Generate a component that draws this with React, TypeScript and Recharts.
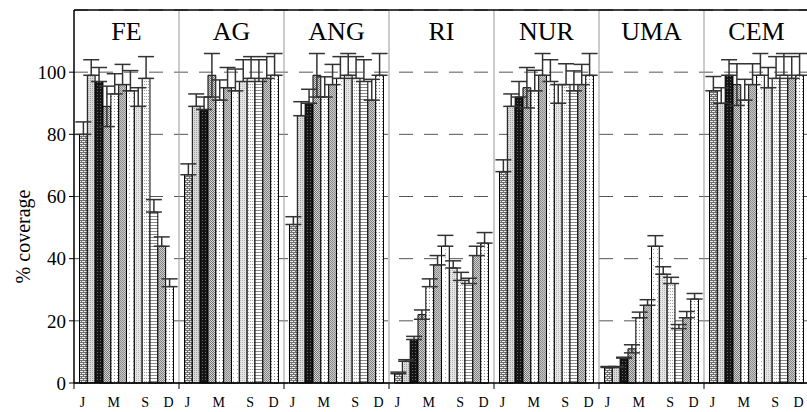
import {
  Bar,
  BarChart,
  CartesianGrid,
  Cell,
  ErrorBar,
  ReferenceArea,
  ReferenceLine,
  XAxis,
  YAxis,
} from "recharts";

const PANELS = ["FE", "AG", "ANG", "RI", "NUR", "UMA", "CEM"];
const MONTHS = ["J", "F", "M", "A", "M", "J", "J", "A", "S", "O", "N", "D"];
const MONTH_LABEL_INDEX = [0, 4, 8, 11];
const Y_TICKS = [0, 20, 40, 60, 80, 100];

// % coverage per panel, January..December
const FE = [80, 99, 97, 89, 93, 96, 94, 89, 98, 55, 44, 31];
const AG = [67, 89, 88, 99, 91, 95, 94, 97, 98, 97, 98, 99];
const ANG = [51, 86, 90, 99, 92, 96, 98, 99, 98, 97, 91, 99];
const RI = [3, 7, 14, 22, 31, 38, 44, 37, 33, 32, 41, 45];
const NUR = [68, 89, 92, 95, 94, 99, 97, 90, 96, 94, 96, 99];
const UMA = [5, 5, 8, 11, 21, 25, 44, 35, 32, 17.5, 21, 27];
const CEM = [94, 90, 99, 96, 91, 96, 99, 95, 98, 99, 98, 99];

// error bar (upper) per panel
const FE_ERR = [4, 5, 4.5, 6.5, 6.5, 6.5, 6.5, 6, 7, 4, 3, 2.5];
const AG_ERR = [3.5, 4, 4, 7, 6.5, 6.5, 7, 7, 7, 7, 7, 7];
const ANG_ERR = [2.5, 4.5, 4.5, 7, 6.5, 6.5, 7, 7, 7, 7, 6.7, 7];
const RI_ERR = [0.5, 0.5, 1, 1.5, 2.5, 3, 3.5, 2.3, 2.6, 1.7, 3, 3.4];
const NUR_ERR = [3.8, 4, 5, 6.5, 6.6, 7, 7, 6, 6.7, 6.4, 6.5, 7];
const UMA_ERR = [0.3, 0.3, 0.3, 1.3, 1.8, 1.8, 3.4, 2.4, 2, 1.3, 2, 1.8];
const CEM_ERR = [4.6, 5, 5, 6.7, 6.7, 6.7, 7, 6.5, 7, 7, 7, 7];

const VALUES = [FE, AG, ANG, RI, NUR, UMA, CEM];
const ERRORS = [FE_ERR, AG_ERR, ANG_ERR, RI_ERR, NUR_ERR, UMA_ERR, CEM_ERR];
// the April whisker is drawn both ways, the others only upward
const BOTH_WAYS_MONTH = 3;

const SPAN = 13.4; // x units per panel (one unit per bar)
const EDGE = (SPAN - MONTHS.length) / 2;
const TOTAL = SPAN * PANELS.length;
const FONT = '"Liberation Serif", "Times New Roman", serif';

const data = PANELS.flatMap((panel, pi) =>
  VALUES[pi].map((value, mi) => ({
    x: pi * SPAN + EDGE + mi + 0.5,
    panel,
    month: mi,
    value,
    err: [mi === BOTH_WAYS_MONTH ? ERRORS[pi][mi] : 0, ERRORS[pi][mi]],
  }))
);

const boundaries = PANELS.map((_, pi) => pi * SPAN).concat([TOTAL]);
const labelTicks = PANELS.flatMap((_, pi) => MONTH_LABEL_INDEX.map((mi) => pi * SPAN + EDGE + mi + 0.5));
const xTicks = [...boundaries, ...labelTicks];
const xTickText = [...boundaries.map(() => ""), ...PANELS.flatMap(() => MONTH_LABEL_INDEX.map((mi) => MONTHS[mi]))];

function XTick(props: any) {
  const { x, y, index } = props;
  const text = xTickText[index];
  if (!text) {
    return <line x1={x} x2={x} y1={y} y2={y + 6} stroke="#000" strokeWidth={1} />;
  }
  return (
    <text x={x - 1} y={y + 24} textAnchor="middle" fontFamily={FONT} fontSize={14} fill="#000">
      {text}
    </text>
  );
}

function YLabel(props: any) {
  const { viewBox } = props;
  const cx = 30;
  const cy = viewBox.y + viewBox.height / 2 + 40;
  return (
    <text x={cx} y={cy} transform={`rotate(-90 ${cx} ${cy})`} textAnchor="middle" fontFamily={FONT} fontSize={20} fill="#000">
      % coverage
    </text>
  );
}

export default function App() {
  return (
    <div style={{ position: "absolute", left: 0, top: 0, width: 807, height: 412, overflow: "hidden", background: "#fff" }}>
      <BarChart width={815} height={412} data={data} margin={{ top: 10, right: 6, left: 0, bottom: 0 }}>
        <defs>
          <pattern id="m0" width="4" height="4" patternUnits="userSpaceOnUse">
            <rect width="4" height="4" fill="#ececec" />
            <rect x="0" y="0" width="4" height="1" fill="#707070" />
            <rect x="0" y="2" width="4" height="1" fill="#707070" />
            <rect x="1" y="1" width="1" height="1" fill="#707070" />
            <rect x="3" y="3" width="1" height="1" fill="#707070" />
          </pattern>
          <pattern id="m1" width="2" height="2" patternUnits="userSpaceOnUse">
            <rect width="2" height="2" fill="#dadada" />
            <rect x="0" y="0" width="1" height="1" fill="#a0a0a0" />
          </pattern>
          <pattern id="m2" width="3" height="3" patternUnits="userSpaceOnUse">
            <rect width="3" height="3" fill="#151515" />
            <rect x="1" y="1" width="1" height="1" fill="#6a6a6a" />
          </pattern>
          <pattern id="m3" width="2" height="2" patternUnits="userSpaceOnUse">
            <rect width="2" height="2" fill="#d4d4d4" />
            <rect x="0" y="0" width="1" height="1" fill="#747474" />
            <rect x="1" y="1" width="1" height="1" fill="#747474" />
          </pattern>
          <pattern id="m4" width="3" height="3" patternUnits="userSpaceOnUse">
            <rect width="3" height="3" fill="#ffffff" />
            <rect x="0" y="0" width="1" height="1" fill="#8c8c8c" />
          </pattern>
          <pattern id="m5" width="2" height="2" patternUnits="userSpaceOnUse">
            <rect width="2" height="2" fill="#c8c8c8" />
            <rect x="0" y="0" width="1" height="1" fill="#888888" />
            <rect x="1" y="1" width="1" height="1" fill="#949494" />
          </pattern>
          <pattern id="m6" width="4" height="4" patternUnits="userSpaceOnUse">
            <rect width="4" height="4" fill="#ffffff" />
            <rect x="1" y="1" width="1" height="1" fill="#a8a8a8" />
          </pattern>
          <pattern id="m7" width="2" height="2" patternUnits="userSpaceOnUse">
            <rect width="2" height="2" fill="#e6e6e6" />
            <rect x="0" y="0" width="1" height="1" fill="#b4b4b4" />
          </pattern>
          <pattern id="m8" width="2" height="3" patternUnits="userSpaceOnUse">
            <rect width="2" height="3" fill="#fafafa" />
            <rect x="0" y="0" width="1" height="1" fill="#a0a0a0" />
          </pattern>
          <pattern id="m9" width="3" height="3" patternUnits="userSpaceOnUse">
            <rect width="3" height="3" fill="#ffffff" />
            <rect x="0" y="0" width="3" height="1" fill="#8a8a8a" />
          </pattern>
          <pattern id="m10" width="2" height="2" patternUnits="userSpaceOnUse">
            <rect width="2" height="2" fill="#d0d0d0" />
            <rect x="0" y="0" width="1" height="1" fill="#808080" />
            <rect x="1" y="1" width="1" height="1" fill="#808080" />
          </pattern>
          <pattern id="m11" width="3" height="3" patternUnits="userSpaceOnUse">
            <rect width="3" height="3" fill="#ffffff" />
            <rect x="1" y="1" width="1" height="1" fill="#848484" />
          </pattern>
        </defs>
        <CartesianGrid vertical={false} stroke="#555" strokeDasharray="14 11" />
        {PANELS.map((panel, pi) => (
          <ReferenceArea
            key={panel}
            x1={pi * SPAN}
            x2={(pi + 1) * SPAN}
            y1={0}
            y2={120}
            fill="none"
            fillOpacity={0}
            stroke="none"
            label={{ value: panel, position: "insideTop", offset: 12, fontFamily: FONT, fontSize: 26, fill: "#000" }}
          />
        ))}
        {boundaries.slice(1, -1).map((b) => (
          <ReferenceLine key={b} x={b} stroke="#999" strokeWidth={1} />
        ))}
        <ReferenceLine y={120} stroke="#000" strokeWidth={1.5} />
        <XAxis
          dataKey="x"
          type="number"
          domain={[0, TOTAL]}
          ticks={xTicks}
          interval={0}
          height={29}
          tickLine={false}
          tickSize={0}
          tickMargin={0}
          axisLine={{ stroke: "#000", strokeWidth: 1.5 }}
          tick={<XTick />}
        />
        <YAxis
          domain={[0, 120]}
          ticks={Y_TICKS}
          width={74}
          interval={0}
          tickSize={5}
          tickMargin={3}
          axisLine={{ stroke: "#000", strokeWidth: 1.5 }}
          tickLine={{ stroke: "#000" }}
          tick={{ fontFamily: FONT, fontSize: 19, fill: "#000" }}
          label={<YLabel />}
        />
        <Bar dataKey="value" barSize={7.8} stroke="#000" strokeWidth={1} isAnimationActive={false}>
          {data.map((d, i) => (
            <Cell key={i} fill={`url(#m${d.month})`} />
          ))}
          <ErrorBar dataKey="err" width={8} stroke="#333" strokeWidth={1.5} isAnimationActive={false} />
        </Bar>
      </BarChart>
    </div>
  );
}
